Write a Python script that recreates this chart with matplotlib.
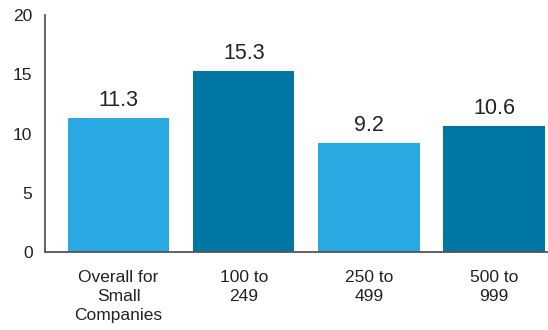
import matplotlib
matplotlib.use("Agg")
import matplotlib.pyplot as plt

categories = ["Overall for\nSmall\nCompanies", "100 to\n249", "250 to\n499", "500 to\n999"]
values = [11.3, 15.3, 9.2, 10.6]
bar_colors = ["#29A9E1", "#0076A3", "#29A9E1", "#0076A3"]
yticks = [0, 5, 10, 15, 20]

plt.rcParams["font.family"] = ["Liberation Sans", "DejaVu Sans"]

fig = plt.figure(figsize=(5.48, 3.30), dpi=100)
ax = fig.add_axes([45 / 548, 78 / 330, 503 / 548, 237 / 330])

x = range(len(values))
bars = ax.bar(x, values, width=0.81, color=bar_colors, zorder=2)

for b, v in zip(bars, values):
    ax.annotate(f"{v:.1f}", (b.get_x() + b.get_width() / 2, v),
                xytext=(0, 5), textcoords="offset points",
                ha="center", va="bottom", fontsize=15.5, color="#222222")

ax.set_xlim(-0.587, 3.43)
ax.set_ylim(0, 20)
ax.set_yticks(yticks)
ax.set_xticks(list(x))
ax.set_xticklabels(categories, fontsize=12.5, color="#222222", linespacing=1.32)
ax.tick_params(axis="y", length=0, pad=9, labelsize=12.5, labelcolor="#222222")
ax.tick_params(axis="x", length=0, pad=13)

for side in ["top", "right"]:
    ax.spines[side].set_visible(False)
for side in ["left", "bottom"]:
    ax.spines[side].set_color("#555555")
    ax.spines[side].set_linewidth(1.3)

fig.savefig("out.png", dpi=100)
